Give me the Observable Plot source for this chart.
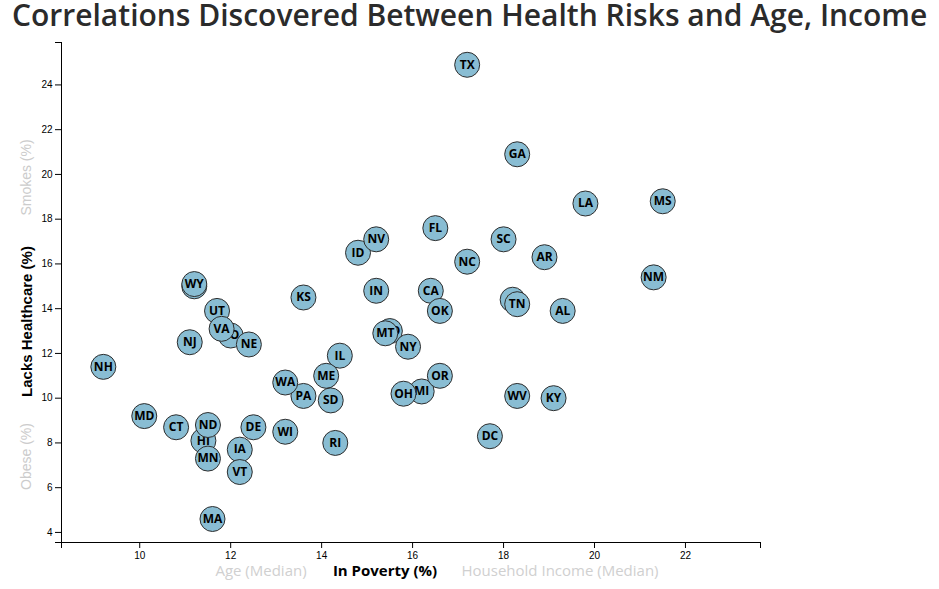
<!DOCTYPE html>
<html><head><meta charset="utf-8">
<script src="https://cdn.jsdelivr.net/npm/d3@7"></script>
<script src="https://cdn.jsdelivr.net/npm/@observablehq/plot@0.6"></script>
<style>
body{margin:0;background:#fff;}
#title{height:30px;line-height:30px;font-family:"Open Sans",sans-serif;font-weight:600;font-size:30px;color:#2b2b2b;padding-left:12px;white-space:nowrap;overflow:visible;}
</style></head><body>
<div id="title">Correlations Discovered Between Health Risks and Age, Income</div>
<div id="chart"></div>
<script>
const abbr = ["AL","AK","AZ","AR","CA","CO","CT","DE","DC","FL","GA","HI","ID","IL","IN","IA","KS","KY","LA","ME","MD","MA","MI","MN","MS","MO","MT","NE","NV","NH","NJ","NM","NY","NC","ND","OH","OK","OR","PA","RI","SC","SD","TN","TX","UT","VT","VA","WA","WV","WI","WY"];
const poverty = [19.3,11.2,18.2,18.9,16.4,12.0,10.8,12.5,17.7,16.5,18.3,11.4,14.8,14.4,15.2,12.2,13.6,19.1,19.8,14.1,10.1,11.6,16.2,11.5,21.5,15.5,15.4,12.4,15.2,9.2,11.1,21.3,15.9,17.2,11.5,15.8,16.6,16.6,13.6,14.3,18.0,14.2,18.3,17.2,11.7,12.2,11.8,13.2,18.3,13.2,11.2];
const healthcare = [13.9,15.0,14.4,16.3,14.8,12.8,8.7,8.7,8.3,17.6,20.9,8.1,16.5,11.9,14.8,7.7,14.5,10.0,18.7,11.0,9.2,4.6,10.3,7.3,18.8,13.0,12.9,12.4,17.1,11.4,12.5,15.4,12.3,16.1,8.8,10.2,13.9,11.0,10.1,8.0,17.1,9.9,14.2,24.9,13.9,6.7,13.1,10.7,10.1,8.5,15.1];
const xTicks = [10,12,14,16,18,20,22];
const yTicks = [4,6,8,10,12,14,16,18,20,22,24];
const xLabels = ["Age (Median)","In Poverty (%)","Household Income (Median)"];
const yLabels = ["Smokes (%)","Lacks Healthcare (%)","Obese (%)"];

const xDomain = [d3.min(poverty) * 0.9, d3.max(poverty) * 1.1];
const yDomain = [3.55, d3.max(healthcare) * 1.04];

const idx = d3.range(abbr.length);
const pointMarks = idx.flatMap(i => [
  Plot.dot([i], {x: j => poverty[j], y: j => healthcare[j], r: 12.5, fill: "#89bdd3", stroke: "#2e2e2e", strokeWidth: 1}),
  Plot.text([i], {x: j => poverty[j], y: j => healthcare[j], text: j => abbr[j], fill: "black", fontSize: 12, fontWeight: "bold", fontFamily: "Open Sans, sans-serif", lineAnchor: "middle"})
]);

const chart = Plot.plot({
  width: 939,
  height: 559,
  marginLeft: 61,
  marginRight: 179,
  marginTop: 12,
  marginBottom: 47,
  style: {fontFamily: "Liberation Sans, Arial, sans-serif", fontSize: "10px", color: "black", background: "white", overflow: "visible"},
  x: {domain: xDomain},
  y: {domain: yDomain},
  marks: [
    Plot.axisX({ticks: xTicks, tickSize: 6, tickPadding: 3, label: null}),
    Plot.axisX({ticks: xDomain, tickSize: 6, tickFormat: () => "", label: null}),
    Plot.axisY({ticks: yTicks, tickSize: 6, tickPadding: 3, label: null}),
    Plot.axisY({ticks: yDomain, tickSize: 6, tickFormat: () => "", label: null}),
    Plot.ruleX([xDomain[0]], {stroke: "black"}),
    Plot.ruleY([yDomain[0]], {stroke: "black"}),
    ...pointMarks,
    Plot.text([xLabels[0]], {frameAnchor: "bottom", dx: -150, dy: 29, text: d => d, fill: "#d0d0d0", fontSize: 15, fontFamily: "Open Sans, sans-serif", textAnchor: "middle", lineAnchor: "middle"}),
    Plot.text([xLabels[1]], {frameAnchor: "bottom", dx: -26, dy: 29, text: d => d, fill: "black", fontSize: 15, fontWeight: "bold", fontFamily: "Open Sans, sans-serif", textAnchor: "middle", lineAnchor: "middle"}),
    Plot.text([xLabels[2]], {frameAnchor: "bottom", dx: 149, dy: 29, text: d => d, fill: "#d0d0d0", fontSize: 15, fontFamily: "Open Sans, sans-serif", textAnchor: "middle", lineAnchor: "middle"}),
    Plot.text([yLabels[0]], {frameAnchor: "left", dx: -35, dy: -115, rotate: -90, text: d => d, fill: "#cccccc", fontSize: 14, fontFamily: "Liberation Sans, Arial, sans-serif", textAnchor: "middle", lineAnchor: "middle"}),
    Plot.text([yLabels[1]], {frameAnchor: "left", dx: -34, dy: 29, rotate: -90, text: d => d, fill: "black", fontSize: 15, fontWeight: "bold", fontFamily: "Liberation Sans, Arial, sans-serif", textAnchor: "middle", lineAnchor: "middle"}),
    Plot.text([yLabels[2]], {frameAnchor: "left", dx: -35, dy: 164, rotate: -90, text: d => d, fill: "#cccccc", fontSize: 14, fontFamily: "Liberation Sans, Arial, sans-serif", textAnchor: "middle", lineAnchor: "middle"})
  ]
});
document.getElementById("chart").appendChild(chart);
</script>
</body></html>
